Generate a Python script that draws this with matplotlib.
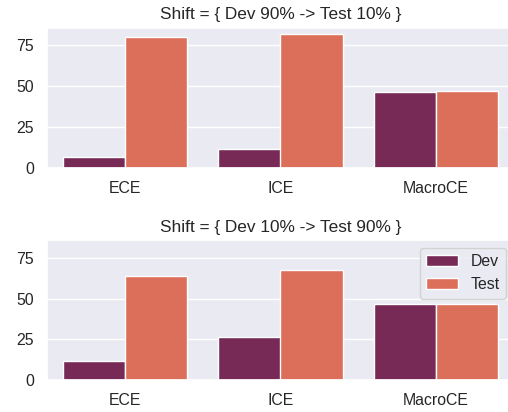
import matplotlib
matplotlib.use("Agg")
import matplotlib.pyplot as plt
import numpy as np
import seaborn as sns

categories = ["ECE", "ICE", "MacroCE"]
series_names = ["Dev", "Test"]
top_dev = [6.6, 11.7, 46.5]
top_test = [80.5, 81.8, 47.3]
bot_dev = [11.5, 26.4, 46.8]
bot_test = [63.6, 67.7, 46.4]
titles = ["Shift = { Dev 90% -> Test 10% }", "Shift = { Dev 10% -> Test 90% }"]
yticks = [0, 25, 50, 75]
colors = ["#772a56", "#dc6f5a"]

sns.set_theme(style="darkgrid", font_scale=1.1)
plt.rcParams['font.family'] = ['Liberation Sans', 'DejaVu Sans']
plt.rcParams['xtick.labelsize'] = 11.4
plt.rcParams['ytick.labelsize'] = 11.4
plt.rcParams['axes.titlesize'] = 12.4
plt.rcParams['legend.fontsize'] = 11.4

fig, axes = plt.subplots(2, 1, figsize=(5.08, 4.12), dpi=100, sharey=True)

x = np.arange(len(categories))
w = 0.4
data = [(top_dev, top_test), (bot_dev, bot_test)]
for i, ax in enumerate(axes):
    dev, test = data[i]
    ax.bar(x - w/2, dev, width=w, color=colors[0], edgecolor="white", linewidth=1, label=series_names[0])
    ax.bar(x + w/2, test, width=w, color=colors[1], edgecolor="white", linewidth=1, label=series_names[1])
    ax.set_xticks(x)
    ax.set_xticklabels(categories)
    ax.set_yticks(yticks)
    ax.set_xlim(-0.5, 2.5)
    ax.set_title(titles[i])
    ax.tick_params(axis='x', labelbottom=True)
    ax.grid(False, axis='x')

axes[0].set_ylim(0, 85.9)
axes[0].set_position([47/508, 1-167.7/412, 467/508, 140/412])
axes[1].set_position([47/508, 1-380/412, 467/508, 140/412])
axes[1].legend(loc="upper right")

fig.savefig("out.png", dpi=100)
